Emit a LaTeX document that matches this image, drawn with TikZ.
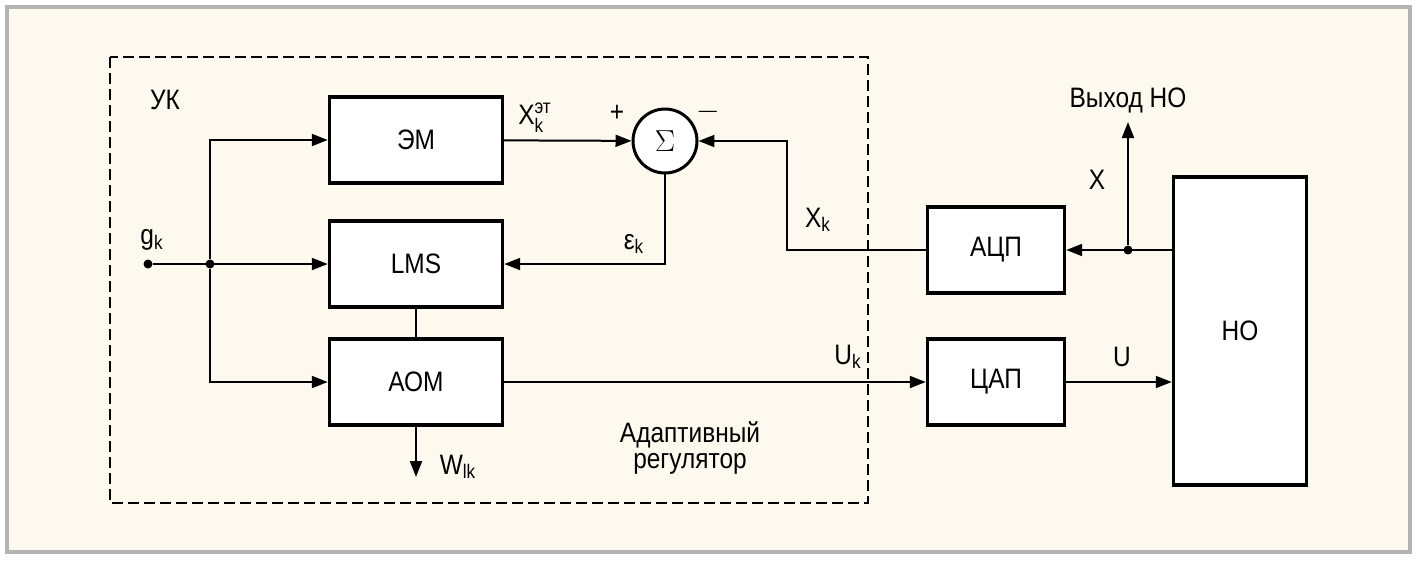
\documentclass[tikz,border=0pt]{standalone}
\usepackage{amsmath}
\usepackage{fontspec}
\setmainfont{Liberation Sans}[FakeStretch=0.87]
\usepackage{tikz}
\usetikzlibrary{arrows.meta,positioning,calc}

\definecolor{cream}{HTML}{FDF9EE}
\definecolor{framegray}{HTML}{B4B4B4}

\begin{document}
\begin{tikzpicture}[
  x=0.02cm, y=-0.02cm,
  font=\fontsize{16}{18}\selectfont,
  >={Triangle[length=0.32cm, width=0.24cm]},
  blk/.style={rectangle, draw, fill=white, line width=0.07cm, minimum width=3.46cm, minimum height=1.72cm},
  cnv/.style={blk, minimum width=2.74cm},
  summ/.style={circle, draw, fill=white, line width=0.06cm, minimum size=1.28cm, inner sep=0pt, font=\LARGE},
  sig/.style={->, line width=0.04cm},
  dot/.style={circle, fill, inner sep=0pt, minimum size=0.18cm}
]
% frame
\useasboundingbox (0,0) rectangle (1421,562);
\draw[framegray, line width=0.08cm, fill=cream] (7,7) rectangle (1410,552);
\draw[dashed, line width=0.03cm, dash pattern=on 0.22cm off 0.1cm] (110,57) rectangle (868,503);
\node at (165,100) (uk) {УК};
\node[align=center] at (690,448) (reg) {Адаптивный\\[-3pt]регулятор};

% blocks
\node[blk] at (416,140) (em)  {ЭМ};
\node[blk] at (416,264) (lms) {LMS};
\node[blk] at (416,382) (aom) {АОМ};
\node[summ] at (665,141) (sum) {$\Sigma$};
\node[cnv] at (996,250) (adc) {АЦП};
\node[cnv] at (996,382) (dac) {ЦАП};
\node[blk, minimum width=2.66cm, minimum height=6.16cm] at (1240,331) (ho) {НО};

% points
\node[dot] at (148,264) (g) {};
\node[dot] at (210,264) (j) {};
\node[dot] at (1128,250) (xo) {};
\coordinate (out) at (1128,122);
\coordinate (w) at (416,477);
\coordinate (bend) at (787,141);

% connectors
\draw[sig] (g) -- (lms);
\draw[sig] (j) |- (em);
\draw[sig] (j) |- (aom);
\draw[sig] (em) -- (sum);
\draw[sig] (sum) |- (lms);
\draw[sig] (adc.west) -| (bend) -- (sum);
\draw[sig] (ho.west |- xo) -- (adc);
\draw[sig] (xo) -- (out);
\draw[sig] (aom) -- (dac);
\draw[sig] (dac) -- (dac -| ho.west);
\draw[line width=0.04cm] (lms) -- (aom);
\draw[sig] (aom) -- (w);

% labels
\node at (152,240) {g\textsubscript{k}};
\node at (535,118) {X$^{\text{эт}}_{\text{k}}$};
\node at (617,113) {+};
\node at (708,112) {$-$};
\node at (634,244) {ε\textsubscript{k}};
\node at (818,220) {X\textsubscript{k}};
\node at (1128,100) {Выход НО};
\node at (1097,180) {X};
\node at (848,357) {U\textsubscript{k}};
\node at (1122,357) {U};
\node at (458,467) {W\textsubscript{lk}};
\end{tikzpicture}
\end{document}
